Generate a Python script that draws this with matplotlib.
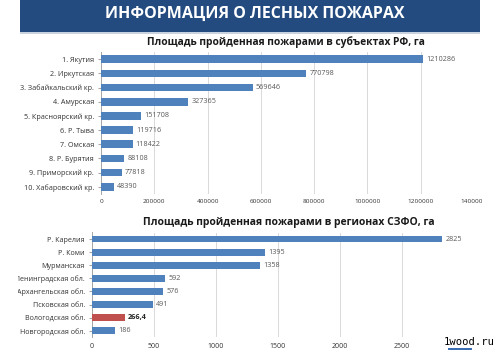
import matplotlib
matplotlib.use("Agg")
import matplotlib.pyplot as plt
from matplotlib.transforms import Bbox, TransformedBbox
from matplotlib.patches import Rectangle

plt.rcParams['font.family'] = ['Open Sans', 'DejaVu Sans']

header_text = "ИНФОРМАЦИЯ О ЛЕСНЫХ ПОЖАРАХ"

rf_title = "Площадь пройденная пожарами в субъектах РФ, га"
rf_regions = ["1. Якутия", "2. Иркутская", "3. Забайкальский кр.", "4. Амурская",
              "5. Красноярский кр.", "6. Р. Тыва", "7. Омская", "8. Р. Бурятия",
              "9. Приморский кр.", "10. Хабаровский кр."]
rf_area = [1210286, 770798, 569646, 327365, 151708, 119716, 118422, 88108, 77818, 48390]
rf_ticks = [0, 200000, 400000, 600000, 800000, 1000000, 1200000, 1400000]

szfo_title = "Площадь пройденная пожарами в регионах СЗФО, га"
szfo_regions = ["Р. Карелия", "Р. Коми", "Мурманская", "Ленинградская обл.",
                "Архангельская обл.", "Псковская обл.", "Вологодская обл.",
                "Новгородская обл."]
szfo_area = [2825, 1395, 1358, 592, 576, 491, 266.4, 186]
szfo_ticks = [0, 500, 1000, 1500, 2000, 2500, 3000]
highlight = "Вологодская обл."

BLUE = "#4F81BD"
RED = "#C0504D"
GRID = "#D9D9D9"
TXT = "#333333"


def fmt(v):
    if float(v).is_integer():
        return str(int(v))
    return str(v).replace('.', ',')


fig = plt.figure(figsize=(5, 3.5), dpi=100)
fig.patch.set_facecolor("white")

# header band
fig.patches.append(Rectangle((0.04, 1 - 32 / 350), 0.92, 32 / 350, transform=fig.transFigure,
                             facecolor="#234B80", edgecolor="none", zorder=0))
fig.patches.append(Rectangle((0.04, 1 - 34 / 350), 0.92, 2 / 350, transform=fig.transFigure,
                             facecolor="#C9D3E0", edgecolor="none", zorder=0))
fig.text(0.51, 1 - 14 / 350, header_text, color="white", fontsize=11.5, fontweight="bold",
         ha="center", va="center")

# frame that clips labels at the slide border
clip = TransformedBbox(Bbox.from_extents(0.036, 0.0, 0.964, 1.0), fig.transFigure)


def draw_panel(ax, names, values, ticks, xmax, colors, bar_h, tick_fs, lab_fs,
               val_fs, bold_names=()):
    y = list(range(len(names)))
    ax.barh(y, values, height=bar_h, color=colors, zorder=3)
    ax.set_ylim(len(names) - 0.5, -0.5)
    ax.set_xlim(0, xmax)
    ax.set_yticks(y)
    ax.set_yticklabels(names, fontsize=lab_fs, color=TXT)
    ax.set_xticks(ticks)
    ax.set_xticklabels([str(t) for t in ticks], fontsize=tick_fs, color=TXT)
    ax.grid(axis="x", color=GRID, linewidth=0.7, zorder=0)
    for s in ("top", "right", "bottom"):
        ax.spines[s].set_visible(False)
    ax.spines["left"].set_color("#A6A6A6")
    ax.spines["left"].set_linewidth(0.7)
    ax.tick_params(axis="y", length=2, color="#A6A6A6", pad=3)
    ax.tick_params(axis="x", length=0, pad=4)
    off = xmax * 0.008
    for yi, (n, v) in enumerate(zip(names, values)):
        bold = n in bold_names
        ax.text(v + off, yi, fmt(v), fontsize=val_fs, va="center", ha="left",
                color="#262626" if bold else "#595959",
                fontweight="bold" if bold else "normal")
    for lbl in ax.get_yticklabels() + ax.get_xticklabels():
        lbl.set_clip_box(clip)
        lbl.set_clip_on(True)


ax1 = fig.add_axes([0.202, 1 - 193.8 / 350, 0.948 - 0.202, (193.8 - 52.2) / 350])
draw_panel(ax1, rf_regions, rf_area, rf_ticks, 1400000, BLUE, 0.55,
           4.6, 5.2, 5.2)
fig.text(0.572, 1 - 42 / 350, rf_title, fontsize=7.4, fontweight="bold", color="#1A1A1A",
         ha="center", va="center")

ax2 = fig.add_axes([0.184, 1 - 337.3 / 350, 0.928 - 0.184, (337.3 - 232.5) / 350])
colors2 = [RED if n == highlight else BLUE for n in szfo_regions]
draw_panel(ax2, szfo_regions, szfo_area, szfo_ticks, 3000, colors2, 0.52,
           5.0, 5.1, 5.2, bold_names=(highlight,))
fig.text(0.577, 1 - 223 / 350, szfo_title, fontsize=7.5, fontweight="bold", color="#1A1A1A",
         ha="center", va="center")

# site mark
fig.patches.append(Rectangle((448 / 500, 0), 24 / 500, 6 / 350, transform=fig.transFigure,
                             facecolor="#3B6DB3", edgecolor="none", zorder=5))
fig.text(469 / 500, 1 - 342 / 350, "1wood.ru", fontsize=7.6, family="DejaVu Sans Mono",
         color="black", ha="center", va="center", zorder=6,
         bbox=dict(facecolor="white", edgecolor="none", pad=0.5))

fig.savefig("out.png", dpi=100, facecolor="white")
